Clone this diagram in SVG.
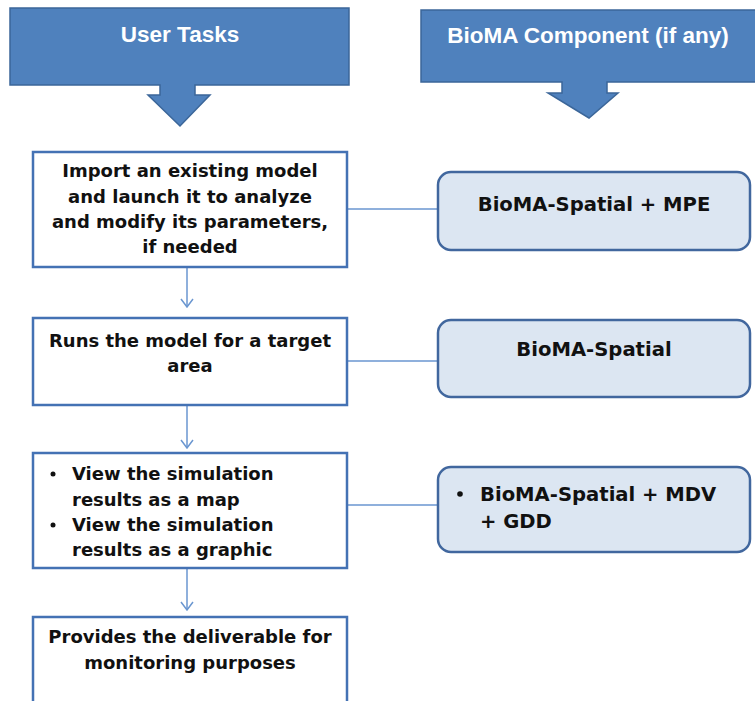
<svg xmlns="http://www.w3.org/2000/svg" width="755" height="701" viewBox="0 0 755 701">
<style>
.hdr{fill:#4f81bd;stroke:#3b6699;stroke-width:1.5}
.hdrt{font-family:"Liberation Sans",Arial,sans-serif;font-weight:bold;font-size:22.5px;fill:#fff;text-anchor:middle}
.box{fill:#fff;stroke:#4472b4;stroke-width:2.5}
.rbox{fill:#dce6f2;stroke:#41679e;stroke-width:2.5}
.t{font-family:"DejaVu Sans",Verdana,sans-serif;font-weight:bold;font-size:18px;fill:#111}
.r{font-size:19.6px}
.c{text-anchor:middle}
.con{stroke:#6a96d0;stroke-width:1.5;fill:none}
</style>
<defs>
<marker id="arr" markerWidth="10" markerHeight="14" refX="9" refY="7" orient="auto" markerUnits="userSpaceOnUse" viewBox="0 0 10 14">
<path d="M1,1 L9,7 L1,13" fill="none" stroke="#6a96d0" stroke-width="1.5"/>
</marker>
</defs>
<g id="header-user-tasks">
<path class="hdr" d="M10,8 H349 V85 H195 V95 H210 L180,126 L148,95 H160 V85 H10 Z"/>
<text class="hdrt" x="180" y="42">User Tasks</text>
</g>
<g id="header-bioma">
<path class="hdr" d="M421,10 H756 V82 H607 V93 H618 L589,118 L548,93 H562 V82 H421 Z"/>
<text class="hdrt" x="588" y="43">BioMA Component (if any)</text>
</g>
<g id="connectors">
<line class="con" x1="347" y1="209" x2="438" y2="209"/>
<line class="con" x1="347" y1="361" x2="438" y2="361"/>
<line class="con" x1="347" y1="505" x2="438" y2="505"/>
<line class="con" x1="187" y1="267" x2="187" y2="307" marker-end="url(#arr)"/>
<line class="con" x1="187" y1="405" x2="187" y2="448" marker-end="url(#arr)"/>
<line class="con" x1="187" y1="568" x2="187" y2="610" marker-end="url(#arr)"/>
</g>
<g id="task1">
<rect class="box" x="33" y="152" width="314" height="115"/>
<text class="t c" x="190" y="177">Import an existing model</text>
<text class="t c" x="190" y="203">and launch it to analyze</text>
<text class="t c" x="190" y="228">and modify its parameters,</text>
<text class="t c" x="190" y="253">if needed</text>
</g>
<g id="task2">
<rect class="box" x="33" y="318" width="314" height="87"/>
<text class="t c" x="190" y="347">Runs the model for a target</text>
<text class="t c" x="190" y="372">area</text>
</g>
<g id="task3">
<rect class="box" x="33" y="453" width="314" height="115"/>
<circle cx="53" cy="474" r="2.5" fill="#111"/>
<text class="t" x="72" y="480">View the simulation</text>
<text class="t" x="72" y="506">results as a map</text>
<circle cx="53" cy="525" r="2.5" fill="#111"/>
<text class="t" x="72" y="531">View the simulation</text>
<text class="t" x="72" y="556">results as a graphic</text>
</g>
<g id="task4">
<rect class="box" x="33" y="617" width="314" height="100"/>
<text class="t c" x="190" y="643">Provides the deliverable for</text>
<text class="t c" x="190" y="669">monitoring purposes</text>
</g>
<g id="comp1">
<rect class="rbox" x="438" y="172" width="312" height="78" rx="13"/>
<text class="t r c" x="594" y="211">BioMA-Spatial + MPE</text>
</g>
<g id="comp2">
<rect class="rbox" x="438" y="320" width="312" height="77" rx="13"/>
<text class="t r c" x="594" y="356">BioMA-Spatial</text>
</g>
<g id="comp3">
<rect class="rbox" x="438" y="467" width="312" height="85" rx="13"/>
<circle cx="460" cy="494" r="2.8" fill="#111"/>
<text class="t r" x="480" y="501">BioMA-Spatial + MDV</text>
<text class="t r" x="480" y="528">+ GDD</text>
</g>
</svg>
